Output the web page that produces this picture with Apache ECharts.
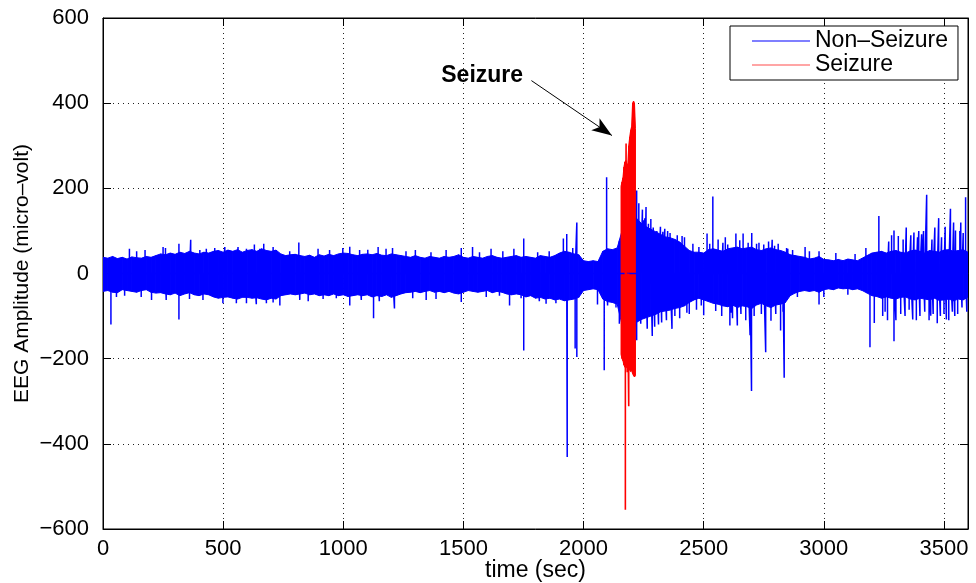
<!DOCTYPE html>
<html>
<head>
<meta charset="utf-8">
<script src="https://cdn.jsdelivr.net/npm/echarts@6/dist/echarts.min.js"></script>
<style>
html,body{margin:0;padding:0;background:#fff;}
#chart{width:976px;height:583px;}
</style>
</head>
<body>
<div id="chart"></div>
<script>
// ---- data ----
// Non-seizure EEG: dense band envelope (upper / lower) every 20 s from t = 0 s
var bandStart = 0;
var bandStep = 20;
var bandHigh = [
  38,36,40,35,38,34,39,37,36,40,
  38,42,46,44,48,45,50,47,52,48,
  46,50,48,52,54,50,55,52,56,50,
  54,56,52,58,54,52,55,46,42,44,
  45,42,40,43,38,44,41,45,42,46,
  48,47,44,42,45,46,44,47,43,42,
  46,44,42,40,38,42,38,36,40,38,
  36,40,38,40,44,38,36,40,38,36,
  40,42,38,36,38,40,42,38,40,38,
  36,42,40,38,42,48,52,50,46,44,
  30,28,30,28,52,58,56,60,100,120,
  130,130,118,110,104,98,92,86,84,80,
  74,64,54,50,50,48,56,58,55,52,
  58,60,62,58,60,62,56,54,58,60,
  56,54,50,44,42,40,38,34,36,40,
  33,32,30,33,30,34,32,30,36,42,
  48,50,52,48,52,54,50,48,53,55,
  52,48,54,52,50,55,56,52,54,56,50
];
var bandLow = [
  -42,-40,-44,-45,-38,-40,-42,-44,-40,-38,
  -44,-46,-45,-48,-50,-46,-52,-48,-45,-50,
  -52,-48,-50,-55,-58,-56,-55,-58,-60,-56,
  -56,-58,-57,-60,-62,-58,-60,-52,-50,-48,
  -50,-48,-46,-50,-48,-52,-50,-52,-48,-52,
  -50,-54,-52,-50,-52,-50,-55,-52,-54,-50,
  -56,-52,-48,-45,-44,-42,-45,-42,-40,-44,
  -42,-45,-42,-46,-48,-44,-40,-42,-44,-42,
  -40,-45,-42,-44,-48,-50,-48,-50,-55,-52,
  -58,-56,-60,-58,-62,-60,-64,-62,-60,-56,
  -40,-38,-36,-38,-60,-66,-68,-72,-120,-140,
  -150,-115,-108,-104,-100,-96,-90,-88,-86,-82,
  -80,-76,-68,-62,-58,-62,-66,-70,-72,-76,
  -78,-74,-80,-76,-78,-82,-74,-70,-76,-80,
  -74,-72,-68,-52,-46,-42,-40,-42,-40,-44,
  -38,-36,-38,-34,-36,-35,-38,-36,-40,-46,
  -52,-54,-58,-55,-58,-60,-56,-55,-60,-62,
  -58,-60,-62,-58,-63,-62,-60,-64,-60,-62,-55
];
// Non-seizure spikes sticking out of the band: time (s) and peak amplitude (micro-volt)
var spikeTime = [
  33,56,90,110,140,159,175,202,250,260,263,316,316,360,365,403,416,430,465,499,
  507,555,562,597,597,630,638,653,669,680,708,708,736,777,815,819,854,895,916,943,
  971,998,1027,1027,1068,1075,1102,1126,1145,1150,1178,1205,1213,1261,1289,1300,1345,1365,1386,1428,
  1491,1491,1538,1567,1595,1615,1650,1664,1692,1710,1740,1751,1751,1809,1816,1844,1857,1885,1916,1930,
  1932,1955,1965,1972,1972,2058,2086,2096,2100,2135,2149,2149,2221,2221,2230,2238,2245,2250,2255,2260,
  2265,2270,2280,2286,2290,2296,2305,2312,2320,2325,2330,2338,2345,2350,2360,2368,2380,2390,2400,2410,
  2420,2430,2440,2455,2470,2480,2490,2500,2514,2525,2538,2550,2560,2575,2580,2590,2600,2609,2615,2620,
  2634,2640,2650,2655,2664,2675,2685,2693,2699,2700,2710,2720,2730,2740,2750,2758,2770,2780,2785,2795,
  2800,2810,2820,2830,2835,2845,2850,2870,2890,2922,2940,2980,2980,3000,3050,3100,3130,3175,3192,3210,
  3229,3245,3255,3265,3270,3282,3292,3292,3300,3310,3320,3330,3338,3343,3355,3362,3370,3375,3385,3390,
  3395,3400,3407,3415,3420,3428,3438,3445,3450,3455,3462,3472,3478,3485,3490,3500,3505,3510,3520,3527,
  3535,3540,3545,3548,3557,3566,3570,3575,3580,3590,3595
];
var spikeValue = [
  -120,-55,-52,58,52,-55,55,-62,62,60,-62,70,-108,-60,79,55,-62,58,60,-70,
  62,-70,62,58,-70,68,-72,58,70,-70,62,-68,-75,52,73,-62,-65,58,-60,55,
  -58,60,63,-75,55,-62,56,-105,62,-65,58,60,-82,52,-58,55,-62,50,-60,55,
  60,-67,62,50,-55,58,-52,52,-75,58,-58,82,-181,50,-65,-71,52,-70,82,93,
  -431,60,-176,120,-196,-73,-227,226,-75,-80,77,-118,195,-157,165,-118,150,125,130,156,
  -130,117,128,-147,108,-125,100,-120,110,-115,98,105,-110,100,95,-130,-100,90,-105,88,
  85,-92,-95,70,-85,62,-75,-98,94,70,181,-88,80,-100,72,85,68,-122,-92,-105,
  94,-122,78,-95,94,-110,72,-145,-276,95,-100,70,72,-95,68,-185,75,-111,79,65,
  -95,70,-134,-90,-245,60,58,55,-55,62,52,52,-73,-55,48,-50,46,60,-173,-116,
  135,-100,-90,-110,75,90,101,-159,-110,88,-95,80,-100,108,-85,90,-108,96,-110,85,
  100,-100,92,100,-90,185,-110,-99,80,-95,108,-117,130,-100,85,-95,110,-108,-110,152,
  -90,120,-100,101,-95,100,120,-80,95,179,-90
];
// Seizure EEG: band envelope every 4 s from t = 2156 s, plus its largest spikes
var seizureStart = 2156;
var seizureStep = 4;
var seizureHigh = [205,215,225,250,262,265,258,255,300,320,336,345,400,405,400,340];
var seizureLow  = [-190,-200,-205,-215,-220,-222,-215,-225,-228,-225,-230,-228,-235,-240,-243,-240];
var seizureSpikeTime  = [2174,2177,2182,2188];
var seizureSpikeValue = [-555,305,-232,-312];

var xTicks = {min: 0, max: 3600, interval: 500};
var yTicks = {min: -600, max: 600, interval: 200};

var annotationText = 'Seizure';
var annotationPos = [1578, 465];
var arrowFrom = [1783, 453];
var arrowTo = [2118, 324];

// ---- helpers ----
function bandRows(start, step, hi, lo) {
  var rows = [];
  for (var i = 0; i < hi.length; i++) rows.push([start + i * step, hi[i], lo[i]]);
  return rows;
}
function spikeLine(times, values) {
  var idx = times.map(function (_, i) { return i; }).sort(function (a, b) { return times[a] - times[b]; });
  var out = [];
  idx.forEach(function (i) {
    out.push([times[i], 0]);
    out.push([times[i], values[i]]);
    out.push([times[i], 0]);
  });
  return out;
}
function bandSeries(name, rows, color) {
  return {
    name: name, type: 'custom', xAxisIndex: 0, yAxisIndex: 0, silent: true,
    clip: true,
    data: rows,
    renderItem: function (params, api) {
      var i = params.dataIndex;
      if (i >= rows.length - 1) return null;
      var a = rows[i], b = rows[i + 1];
      var pts = [
        api.coord([a[0], a[1]]), api.coord([b[0], b[1]]),
        api.coord([b[0], b[2]]), api.coord([a[0], a[2]])
      ];
      var cs = params.coordSys;
      return {
        type: 'polygon',
        shape: {points: pts},
        clipPath: {type: 'rect', shape: {x: cs.x, y: cs.y, width: cs.width, height: cs.height}},
        style: {fill: color, stroke: color, lineWidth: 1}
      };
    },
    z: 2
  };
}

var FONT = '"Liberation Sans", Arial, Helvetica, sans-serif';
var dash = function (v) { return String(v).replace('-', '\u2212'); };

var chart = echarts.init(document.getElementById('chart'), null, {renderer: 'canvas'});
var gridLine = {show: true, lineStyle: {color: '#222', width: 1, type: [1, 4]}};
var option = {
  animation: false,
  backgroundColor: '#fff',
  grid: {left: 103, right: 8, top: 18, bottom: 54, containLabel: false, outerBoundsMode: 'none',
    show: true, borderColor: '#000', borderWidth: 1, backgroundColor: 'transparent'},
  legend: {
    orient: 'vertical', left: 730, top: 26,
    padding: [3, 10, 3, 22], itemGap: 0,
    itemWidth: 58, itemHeight: 1,
    backgroundColor: '#fff', borderColor: '#000', borderWidth: 1,
    textStyle: {fontFamily: FONT, fontSize: 23, color: '#000', lineHeight: 24},
    data: [
      {name: 'Non\u2013Seizure', icon: 'rect', itemStyle: {color: '#0000ff'}},
      {name: 'Seizure', icon: 'rect', itemStyle: {color: '#ff4d4d'}}
    ]
  },
  xAxis: [{
    type: 'value', min: xTicks.min, max: xTicks.max, interval: xTicks.interval,
    axisLine: {show: true, onZero: false, lineStyle: {color: '#000', width: 1}},
    axisTick: {show: true, inside: true, length: 8, lineStyle: {color: '#000'}},
    axisLabel: {color: '#000', fontFamily: FONT, fontSize: 22, margin: 9, showMaxLabel: false, formatter: dash},
    splitLine: gridLine,
    name: 'time (sec)', nameLocation: 'middle', nameGap: 30, nameMoveOverlap: false,
    nameTextStyle: {fontFamily: FONT, fontSize: 23, color: '#000'}
  }, {
    type: 'value', position: 'top', min: xTicks.min, max: xTicks.max, interval: xTicks.interval,
    axisLine: {show: true, onZero: false, lineStyle: {color: '#000'}},
    axisTick: {show: true, inside: true, length: 8, lineStyle: {color: '#000'}},
    axisLabel: {show: false}, splitLine: {show: false}
  }],
  yAxis: [{
    type: 'value', min: yTicks.min, max: yTicks.max, interval: yTicks.interval,
    axisLine: {show: true, onZero: false, lineStyle: {color: '#000', width: 1}},
    axisTick: {show: true, inside: true, length: 8, lineStyle: {color: '#000'}},
    axisLabel: {color: '#000', fontFamily: FONT, fontSize: 22, margin: 14, formatter: dash},
    splitLine: gridLine,
    name: 'EEG Amplitude (micro\u2013volt)', nameLocation: 'middle', nameGap: 70, nameMoveOverlap: false,
    nameTextStyle: {fontFamily: FONT, fontSize: 21, color: '#000'}
  }, {
    type: 'value', position: 'right', min: yTicks.min, max: yTicks.max, interval: yTicks.interval,
    axisLine: {show: true, onZero: false, lineStyle: {color: '#000'}},
    axisTick: {show: true, inside: true, length: 8, lineStyle: {color: '#000'}},
    axisLabel: {show: false}, splitLine: {show: false}
  }],
  series: [
    bandSeries('Non-Seizure band', bandRows(bandStart, bandStep, bandHigh, bandLow), '#0000ff'),
    {
      name: 'Non\u2013Seizure', type: 'line', xAxisIndex: 0, yAxisIndex: 0,
      symbol: 'none', showSymbol: false, clip: true,
      lineStyle: {color: '#0000ff', width: 1.5},
      itemStyle: {color: '#0000ff'},
      data: spikeLine(spikeTime, spikeValue),
      z: 3
    },
    bandSeries('Seizure band', bandRows(seizureStart, seizureStep, seizureHigh, seizureLow), '#ff0000'),
    {
      name: 'Seizure', type: 'line', xAxisIndex: 0, yAxisIndex: 0,
      symbol: 'none', showSymbol: false, clip: true,
      lineStyle: {color: '#ff0000', width: 1.6},
      itemStyle: {color: '#ff0000'},
      data: spikeLine(seizureSpikeTime, seizureSpikeValue),
      z: 4,
      markLine: {
        silent: true, symbol: ['none', 'arrow'], symbolSize: [11, 20], precision: 2,
        lineStyle: {color: '#000', width: 1, type: 'solid'},
        itemStyle: {color: '#000'},
        label: {show: false},
        data: [[{coord: arrowFrom}, {coord: arrowTo}]]
      },
      markPoint: {
        silent: true, symbol: 'circle', symbolSize: 0,
        label: {show: true, position: 'inside', formatter: annotationText,
          fontFamily: FONT, fontSize: 23, fontWeight: 'bold', color: '#000'},
        data: [{coord: annotationPos}]
      }
    }
  ]
};
chart.setOption(option);
</script>
</body>
</html>
